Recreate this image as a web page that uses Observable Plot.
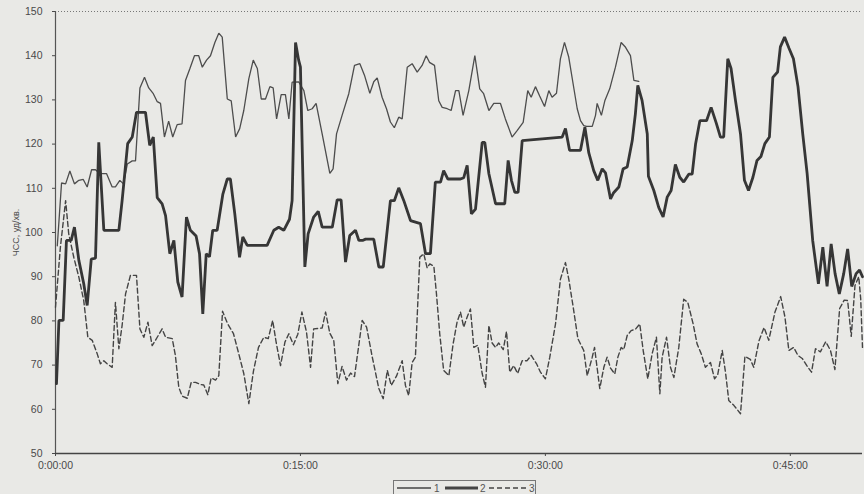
<!DOCTYPE html>
<html><head><meta charset="utf-8">
<script src="https://cdn.jsdelivr.net/npm/d3@7"></script>
<script src="https://cdn.jsdelivr.net/npm/@observablehq/plot@0.6"></script>
<style>
html,body{margin:0;padding:0;background:#e9e9e6;}
#chart{width:864px;height:494px;position:relative;overflow:hidden;font-family:"Liberation Sans",Arial,sans-serif;}
#chart svg g[aria-label="y-axis label"] text{font-size:9px;}
#legend{position:absolute;left:393px;top:480px;width:143px;height:20px;border:1px solid #777;box-sizing:border-box;font-size:10px;color:#555;}
#legend svg{display:block}
</style></head><body><div id="chart"><div id="legend"></div></div>
<script>
// Series 1 (thin solid)
const time1 = [0.11,0.37,0.62,0.88,1.16,1.43,1.70,1.94,2.21,2.45,2.72,3.13,3.47,3.67,3.94,4.16,4.40,4.70,4.90,5.17,5.45,5.71,5.99,6.23,6.43,6.67,6.93,7.18,7.45,7.75,7.96,8.22,8.51,8.77,8.99,9.25,9.49,9.76,10.00,10.21,10.52,10.76,11.03,11.28,11.53,11.84,12.11,12.36,12.60,12.86,13.13,13.33,13.54,13.82,14.08,14.29,14.49,14.89,15.21,15.45,15.72,15.96,16.33,16.80,17.00,17.21,17.55,17.96,18.31,18.64,18.92,19.25,19.49,19.70,20.00,20.27,20.51,20.75,21.02,21.23,21.54,21.84,22.15,22.45,22.70,22.90,23.21,23.47,23.68,23.99,24.23,24.50,24.70,24.96,25.31,25.68,25.98,26.22,26.54,26.84,27.25,27.55,27.96,28.28,28.64,28.92,29.13,29.39,29.65,29.95,30.21,30.41,30.68,30.92,31.17,31.43,31.70,31.95,32.15,32.35,32.51,32.87,33.07,33.17,33.43,33.64,33.94,34.29,34.64,34.91,35.21,35.42,35.72];
const hr1 = [97,111.2,111,113.9,111,111.8,112,110.3,114.2,114.2,113.3,113.3,110.3,110.3,111.8,111,115.5,116.2,116.2,132.7,135.1,132.7,131.4,129.6,129.2,121.6,125.2,121.6,124.4,124.6,134.4,137,140,140,137.4,139,140,143,145.1,144.2,130.2,129.8,121.6,123.5,127.6,134.8,139,137.1,130.2,130.2,133,132.7,125.7,131.2,131.2,125.7,134,134.1,132.1,127.6,128,129.2,122.3,113.4,114.4,122.3,126.5,131.4,137.8,138.2,135.6,131.5,134.1,135,130.6,128,125,123.7,126.1,125.7,137.4,138.2,136.3,137.8,140,138.5,137.8,129.8,128.3,128,127.6,132.1,132.1,126.5,132.1,140,132.5,131.4,127.6,129.2,129.2,125.7,121.6,123.1,124.9,132.1,130.6,133,130.9,128.5,132.1,130.6,131.5,139.3,143,139.7,133.6,128,125.3,124.2,124,124,126.5,129.2,126.5,129.8,132.5,137.4,143,141.9,140,134.4,134.2];

// Series 2 (thick solid)
const time2 = [0.06,0.21,0.47,0.67,0.96,1.16,1.43,1.73,1.94,2.19,2.45,2.65,2.96,3.88,4.08,4.42,4.70,4.96,5.51,5.77,5.99,6.23,6.53,6.74,7.00,7.25,7.49,7.75,8.02,8.26,8.61,8.82,9.02,9.23,9.43,9.63,9.90,10.25,10.52,10.71,10.98,11.27,11.47,11.74,12.96,13.37,13.67,13.98,14.33,14.49,14.70,14.89,15.00,15.27,15.47,15.81,16.09,16.33,16.95,17.25,17.49,17.76,18.02,18.37,18.58,18.80,18.99,19.49,19.80,20.07,20.51,20.75,21.02,21.33,21.74,22.35,22.66,22.96,23.26,23.58,23.77,24.03,24.80,25.00,25.21,25.47,25.72,26.13,26.29,26.54,26.95,27.51,27.72,27.92,28.13,28.33,28.58,31.03,31.23,31.48,32.15,32.42,32.66,32.96,33.21,33.48,33.68,33.99,34.18,34.50,34.76,35.01,35.32,35.51,35.66,35.92,36.24,36.31,36.64,36.94,37.21,37.46,37.70,37.96,38.23,38.47,38.78,38.99,39.20,39.46,39.87,40.15,40.47,40.72,40.92,41.17,41.37,41.64,41.95,42.19,42.44,42.71,42.96,43.20,43.44,43.72,43.93,44.22,44.39,44.65,44.92,45.19,45.47,45.76,46.03,46.37,46.72,46.99,47.25,47.50,47.74,48.00,48.27,48.51,48.76,49.03,49.24,49.42];
const hr2 = [65.8,80.1,80.1,98.2,98.2,101.2,93.7,88.4,83.5,94,94.2,120.4,100.5,100.5,107.2,120.1,121.6,127.2,127.2,119.7,121.6,107.9,106.5,103.8,95.2,98.2,88.8,85.4,103.5,100.5,99.2,95.2,81.6,95.2,94.5,100.5,100.5,108.7,112.1,112.1,104.2,94.4,99,97.1,97.1,100.5,101.2,100.5,103,107.2,143,139,137.4,92.2,99.7,103.5,104.8,101.2,101.2,107.4,107.4,93.3,99.3,100.5,98.2,98.2,98.5,98.5,92.2,92.2,107.2,107.2,110.1,107.2,102.7,102,95.2,95.2,111.4,111.4,114,112.1,112.1,112.4,115.2,104.2,105.3,120.4,120.4,113.3,106.5,106.5,116.3,111.8,109.1,109.1,120.8,121.6,123.5,118.6,118.6,123.8,118,114,111.8,114.4,113.5,107.6,109,110.3,114.4,114.8,120.8,126.8,133.3,129.9,122.3,112.7,109.5,105.7,103.5,108,109.5,115.4,112.5,111.4,113.2,113.2,120.1,125.3,125.3,128.3,124.7,121.6,121.6,139.3,137.1,129.9,122.3,111.8,109.5,112.5,116.3,117.2,120.1,121.6,135.1,136.3,142,144.2,141.7,139.3,133,122.3,113.3,98.2,88.4,96.7,87.8,97.4,90.7,86.1,90.7,96.3,87.8,90.7,91.5,90];

// Series 3 (dashed)
const time3 = [0.00,0.30,0.62,0.81,1.12,1.43,1.73,1.98,2.25,2.55,2.75,2.96,3.16,3.47,3.67,3.88,4.08,4.29,4.59,4.96,5.17,5.41,5.66,5.92,6.23,6.53,6.74,7.15,7.34,7.55,7.75,8.07,8.31,8.58,8.88,9.08,9.33,9.53,9.80,10.00,10.23,10.52,10.90,11.22,11.53,11.84,12.12,12.43,12.76,13.03,13.30,13.52,13.78,14.05,14.29,14.57,14.84,15.09,15.37,15.62,15.81,16.33,16.54,16.80,17.04,17.29,17.55,17.82,18.07,18.31,18.78,19.05,19.40,19.80,20.07,20.32,20.56,20.88,21.23,21.43,21.63,21.84,22.04,22.31,22.55,22.76,22.92,23.17,23.33,23.53,23.77,24.09,24.35,24.59,24.80,25.00,25.21,25.41,25.62,25.86,26.13,26.33,26.54,26.74,26.95,27.14,27.42,27.62,27.82,28.06,28.30,28.58,28.88,29.13,29.46,29.70,30.00,30.27,30.62,30.92,31.23,31.43,31.70,31.99,32.35,32.56,32.87,33.01,33.33,33.58,33.78,33.99,34.25,34.44,34.64,34.80,35.01,35.25,35.51,35.78,35.99,36.27,36.54,36.80,37.01,37.15,37.42,37.66,37.87,38.17,38.47,38.72,39.05,39.29,39.54,39.80,40.11,40.36,40.55,40.83,41.03,41.23,41.54,41.95,42.22,42.55,42.76,43.08,43.39,43.68,44.06,44.41,44.67,44.91,45.21,45.46,45.73,46.02,46.30,46.54,46.84,47.17,47.46,47.73,48.02,48.30,48.51,48.73,48.96,49.19,49.31,49.42];
const hr3 = [83.1,96.7,107.2,99.7,94.4,89.9,84.6,76.3,75.6,72.6,70.3,71,70.3,69.5,84.2,73.7,79,86.1,90.3,90.3,78.2,76.3,79.7,74.4,76.3,78.2,76.3,76,72.2,65,63,62.5,66.1,66.1,65.6,65.5,63.3,67.1,66.6,67.6,82.2,79.5,77.1,72.6,68.1,61.3,68.6,74,76.3,76,80.1,75,69.9,75.2,77.1,74.6,77,82,77.5,69.5,78.2,78.4,82,77.2,75.6,65.8,69.7,66.6,68.2,67.4,80.1,78.6,71.8,64.7,62.4,68.8,65.4,67.5,71,65.4,63.1,70.6,71.8,94.4,95.2,92,92.9,92.4,86.1,77.1,68.8,67.6,74.8,79.7,82,78.6,80.9,82.7,74,74.5,68.1,65,79,75,74,75,73.5,77.6,68.4,69.9,68.1,71,71,72.2,70.3,68.4,66.9,71.8,79.3,89.4,93.2,89.5,83.2,76,73.3,67.6,71.8,74,64.7,69.5,71.8,69.3,68,71.8,74,73.5,76.7,77.8,78.1,79.3,73.3,66.9,72.6,76.3,63.5,71.8,76.3,69.5,67.2,74,84.9,84.2,79.3,74.8,72.6,69.5,70.6,66.9,67.8,73.3,68.4,62,60.9,59,72,71.3,69.5,75.5,78.5,75.6,82,85.5,80.9,73.3,74,72.2,71.5,69.8,68.4,73.7,73,75.3,73.3,69,82.8,84.7,84.6,76.5,88,90,85,74];

const yTicks = [50,60,70,80,90,100,110,120,130,140,150];
const xTicks = [0,15,30,45];
const xTickLabels = ["0:00:00","0:15:00","0:30:00","0:45:00"];
const seriesNames = ["1","2","3"];

const rows1 = time1.map((t,i)=>({t, v:hr1[i]}));
const rows2 = time2.map((t,i)=>({t, v:hr2[i]}));
const rows3 = time3.map((t,i)=>({t, v:hr3[i]}));

const chart = Plot.plot({
  width: 864, height: 478,
  marginTop: 11, marginBottom: 25, marginLeft: 55, marginRight: 2,
  style: {background: "transparent", color: "#4a4a4a", fontSize: "10.5px", fontFamily: "'Liberation Sans', Arial, sans-serif"},
  x: {domain: [0, 49.42]},
  y: {domain: [50, 150]},
  marks: [
    Plot.ruleY([150], {stroke: "#777", strokeDasharray: "1,2", strokeWidth: 1}),
    Plot.axisY({ticks: yTicks, tickSize: 3, tickPadding: 10, label: "ЧСС, уд/хв.", labelAnchor: "center", labelOffset: 43, labelArrow: "none"}),
    Plot.axisX({ticks: xTicks, tickFormat: (d) => xTickLabels[xTicks.indexOf(d)], tickSize: 3, tickPadding: 5, label: null}),
    Plot.ruleX([0], {stroke: "#555", strokeWidth: 1.2}),
    Plot.ruleY([50], {stroke: "#444", strokeWidth: 1.4}),
    Plot.line(rows1, {x: "t", y: "v", stroke: "#4d4d4d", strokeWidth: 1.3, strokeLinejoin: "miter"}),
    Plot.line(rows3, {x: "t", y: "v", stroke: "#444", strokeWidth: 1.4, strokeDasharray: "5,3"}),
    Plot.line(rows2, {x: "t", y: "v", stroke: "#363636", strokeWidth: 2.8, strokeLinejoin: "miter"})
  ]
});
document.getElementById("chart").prepend(chart);

// legend
const lg = d3.select("#legend").append("svg").attr("width", 141).attr("height", 18);
const legendItems = [
  {x1: 3, x2: 37, w: 1.3, dash: null, lx: 40},
  {x1: 51, x2: 84, w: 2.8, dash: null, lx: 86},
  {x1: 95, x2: 132, w: 1.4, dash: "5,3", lx: 135}
];
legendItems.forEach((it, i) => {
  lg.append("line").attr("x1", it.x1).attr("x2", it.x2).attr("y1", 7).attr("y2", 7)
    .attr("stroke", "#444").attr("stroke-width", it.w).attr("stroke-dasharray", it.dash);
  lg.append("text").attr("x", it.lx).attr("y", 11).attr("font-size", 10).attr("fill", "#555")
    .attr("font-family", "'Liberation Sans', Arial, sans-serif").text(seriesNames[i]);
});
</script></body></html>
